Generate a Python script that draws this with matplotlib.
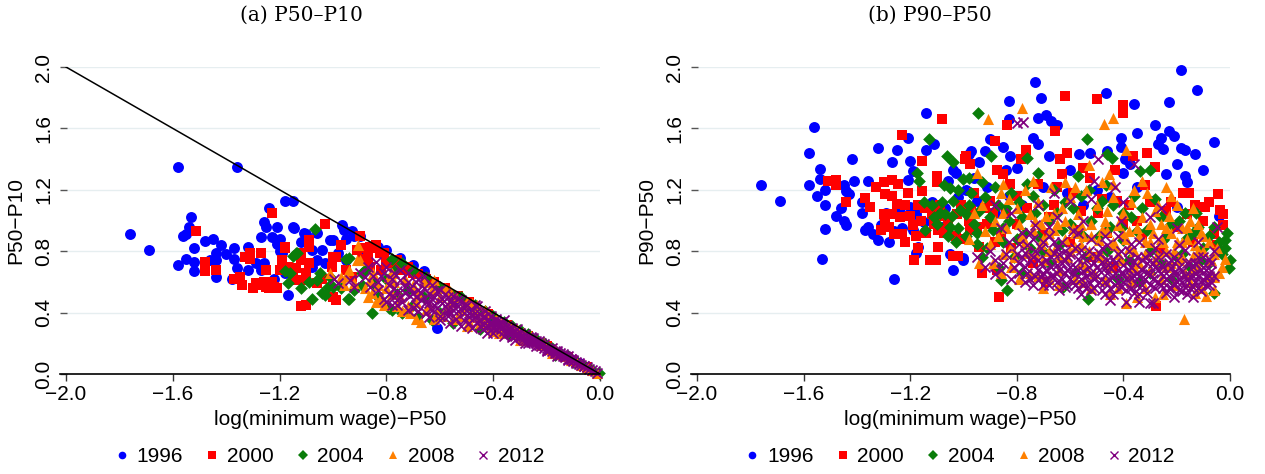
import numpy as np
import matplotlib
matplotlib.use("Agg")
import matplotlib.pyplot as plt
from matplotlib.lines import Line2D

# ---- data: (log(min wage)-P50, gap) pairs ----
years = ["1996", "2000", "2004", "2008", "2012"]

# panel (a): P50-P10
a_1996 = [(-1.76, 0.91), (-1.69, 0.81), (-1.58, 1.35), (-1.36, 1.35), (-1.58, 0.71), (-1.53, 1.02),
          (-1.54, 0.96), (-1.56, 0.90), (-1.55, 0.91), (-1.52, 0.82), (-1.55, 0.75), (-1.52, 0.73),
          (-1.52, 0.67), (-1.48, 0.865), (-1.45, 0.88), (-1.42, 0.84), (-1.44, 0.79), (-1.46, 0.745),
          (-1.44, 0.74), (-1.44, 0.63), (-1.40, 0.78), (-1.37, 0.82), (-1.37, 0.75), (-1.36, 0.69),
          (-1.38, 0.62), (-1.32, 0.83), (-1.32, 0.68), (-1.29, 0.72), (-1.27, 0.68), (-1.27, 0.89),
          (-1.26, 0.99), (-1.25, 0.96), (-1.24, 1.08), (-1.23, 0.89), (-1.21, 0.96), (-1.21, 0.85),
          (-1.20, 0.88), (-1.20, 0.80), (-1.18, 1.13), (-1.15, 1.13), (-1.15, 0.96), (-1.145, 0.95),
          (-1.12, 0.86), (-1.11, 0.92), (-1.19, 0.79), (-1.17, 0.515), (-1.10, 0.91), (-1.08, 0.81),
          (-1.08, 0.70), (-1.06, 0.92), (-1.04, 0.81), (-1.03, 0.72), (-1.01, 0.87), (-1.00, 0.87),
          (-0.98, 0.79), (-0.965, 0.97), (-0.96, 0.94), (-0.95, 0.88), (-0.93, 0.93), (-0.95, 0.74),
          (-0.92, 0.90), (-0.90, 0.90), (-0.88, 0.81), (-0.83, 0.83), (-0.80, 0.81), (-0.75, 0.755),
          (-0.70, 0.71), (-0.66, 0.67), (-0.61, 0.30), (-1.18, 0.66), (-1.22, 0.62), (-1.26, 0.72),
          (-1.13, 0.78), (-1.06, 0.74), (-0.55, 0.47), (-0.48, 0.42), (-0.42, 0.36), (-0.35, 0.31),
          (-0.28, 0.25), (-0.22, 0.19), (-0.15, 0.13), (-0.08, 0.07)]
a_2000 = [(-1.515, 0.93), (-1.48, 0.67), (-1.48, 0.73), (-1.44, 0.68), (-1.37, 0.62), (-1.34, 0.58),
          (-1.35, 0.635), (-1.31, 0.79), (-1.33, 0.765), (-1.27, 0.79), (-1.31, 0.75), (-1.29, 0.59),
          (-1.27, 0.58), (-1.23, 1.05), (-1.25, 0.57), (-1.22, 0.57), (-1.25, 0.68), (-1.26, 0.60),
          (-1.18, 0.82), (-1.18, 0.83), (-1.19, 0.74), (-1.20, 0.68), (-1.14, 0.69), (-1.12, 0.74),
          (-1.11, 0.61), (-1.12, 0.79), (-1.10, 0.66), (-1.09, 0.72), (-1.09, 0.87), (-1.09, 0.83),
          (-1.06, 0.59), (-1.12, 0.44), (-1.10, 0.45), (-1.03, 0.98), (-1.005, 0.70), (-1.00, 0.76),
          (-0.97, 0.84), (-0.95, 0.68), (-1.00, 0.50), (-0.99, 0.765), (-0.90, 0.90), (-0.89, 0.82),
          (-0.87, 0.76), (-0.86, 0.83), (-0.84, 0.84), (-0.86, 0.70), (-0.825, 0.79), (-0.81, 0.79),
          (-0.80, 0.73), (-0.76, 0.74), (-0.82, 0.68), (-0.74, 0.68), (-0.91, 0.81), (-0.89, 0.75),
          (-0.84, 0.82), (-0.79, 0.72), (-0.76, 0.68), (-0.72, 0.70), (-0.70, 0.66), (-0.68, 0.65),
          (-0.65, 0.62), (-0.62, 0.60), (-0.58, 0.56), (-0.53, 0.51), (-0.49, 0.47), (-1.17, 0.70),
          (-1.14, 0.61), (-0.99, 0.48), (-1.19, 0.68), (-1.15, 0.64), (-1.04, 0.62), (-0.93, 0.63),
          (-1.30, 0.56), (-1.24, 0.56), (-1.21, 0.56), (-1.23, 0.60), (-0.42, 0.39), (-0.35, 0.32),
          (-0.27, 0.25), (-0.20, 0.18), (-0.12, 0.11), (-0.05, 0.045)]
a_2004 = [(-1.066, 0.945), (-1.15, 0.77), (-1.135, 0.79), (-1.14, 0.79), (-1.18, 0.67), (-1.16, 0.66),
          (-1.17, 0.59), (-1.08, 0.49), (-1.03, 0.515), (-1.06, 0.61), (-1.09, 0.60), (-1.05, 0.66),
          (-1.04, 0.53), (-1.02, 0.57), (-1.00, 0.57), (-1.01, 0.63), (-0.95, 0.75), (-0.94, 0.755),
          (-0.945, 0.49), (-0.94, 0.49), (-0.89, 0.66), (-0.89, 0.58), (-0.88, 0.68), (-0.85, 0.59),
          (-0.855, 0.395), (-0.79, 0.43), (-0.78, 0.42), (-0.74, 0.40), (-0.766, 0.68), (-0.80, 0.62),
          (-0.68, 0.375), (-0.63, 0.35), (-0.70, 0.45), (-0.66, 0.50), (-0.72, 0.55), (-0.76, 0.52),
          (-0.83, 0.50), (-0.92, 0.55), (-0.97, 0.56), (-1.12, 0.56), (-0.78, 0.75), (-0.74, 0.72),
          (-0.70, 0.68), (-0.65, 0.63), (-0.60, 0.57), (-0.56, 0.53), (-0.52, 0.50), (-0.47, 0.45),
          (-0.43, 0.41), (-0.40, 0.38), (-0.36, 0.34), (-0.33, 0.31), (-0.30, 0.285), (-0.27, 0.26),
          (-0.24, 0.23), (-0.21, 0.20), (-0.18, 0.17), (-0.15, 0.14), (-0.12, 0.115), (-0.09, 0.085),
          (-0.06, 0.055), (-0.03, 0.028), (-0.005, 0.004), (-0.37, 0.265), (-0.34, 0.255), (-0.45, 0.29),
          (-0.17, 0.125), (-0.55, 0.33), (-0.28, 0.22), (-0.10, 0.08), (-0.60, 0.40)]
a_2008 = [(-0.906, 0.84), (-0.90, 0.745), (-0.94, 0.68), (-0.96, 0.58), (-0.95, 0.64), (-0.85, 0.66),
          (-0.86, 0.61), (-0.855, 0.53), (-0.825, 0.48), (-0.79, 0.635), (-0.78, 0.66), (-0.69, 0.36),
          (-0.67, 0.34), (-0.91, 0.74), (-1.01, 0.66), (-0.97, 0.63), (-0.92, 0.59), (-0.84, 0.47),
          (-0.82, 0.50), (-0.88, 0.56), (-0.80, 0.56), (-0.77, 0.60), (-0.75, 0.50), (-0.73, 0.62),
          (-0.72, 0.44), (-0.70, 0.58), (-0.68, 0.52), (-0.66, 0.60), (-0.64, 0.45), (-0.63, 0.55),
          (-0.61, 0.40), (-0.60, 0.50), (-0.58, 0.56), (-0.57, 0.44), (-0.55, 0.36), (-0.54, 0.50),
          (-0.52, 0.42), (-0.50, 0.47), (-0.49, 0.34), (-0.47, 0.41), (-0.46, 0.45), (-0.44, 0.36),
          (-0.42, 0.40), (-0.41, 0.31), (-0.39, 0.36), (-0.37, 0.33), (-0.36, 0.29), (-0.34, 0.32),
          (-0.32, 0.26), (-0.31, 0.29), (-0.29, 0.27), (-0.27, 0.23), (-0.26, 0.25), (-0.24, 0.22),
          (-0.22, 0.19), (-0.21, 0.20), (-0.19, 0.16), (-0.17, 0.16), (-0.15, 0.13), (-0.13, 0.12),
          (-0.11, 0.09), (-0.09, 0.085), (-0.07, 0.06), (-0.05, 0.045), (-0.03, 0.025), (-0.01, 0.008),
          (-0.62, 0.61), (-0.56, 0.54), (-0.48, 0.46), (-0.43, 0.42), (-0.76, 0.44), (-0.69, 0.47),
          (-0.53, 0.38), (-0.45, 0.33), (-0.40, 0.28), (-0.33, 0.30), (-0.74, 0.41), (-0.62, 0.36),
          (-0.50, 0.31), (-0.38, 0.27), (-0.30, 0.22), (-0.18, 0.14), (-0.87, 0.50), (-0.83, 0.58),
          (-0.81, 0.45), (-0.78, 0.52), (-0.71, 0.40), (-0.65, 0.42), (-0.59, 0.38), (-0.56, 0.47),
          (-0.51, 0.44), (-0.46, 0.37), (-0.43, 0.33), (-0.35, 0.30), (-0.28, 0.24), (-0.23, 0.21)]
a_2012 = [(-0.995, 0.62), (-0.935, 0.61), (-0.90, 0.66), (-0.87, 0.70), (-0.86, 0.57), (-0.84, 0.73),
          (-0.83, 0.55), (-0.82, 0.64), (-0.81, 0.49), (-0.80, 0.70), (-0.79, 0.58), (-0.78, 0.45),
          (-0.77, 0.66), (-0.76, 0.54), (-0.75, 0.61), (-0.74, 0.47), (-0.73, 0.57), (-0.72, 0.66),
          (-0.71, 0.51), (-0.70, 0.43), (-0.69, 0.60), (-0.68, 0.55), (-0.67, 0.48), (-0.66, 0.63),
          (-0.65, 0.40), (-0.64, 0.52), (-0.63, 0.58), (-0.62, 0.45), (-0.61, 0.54), (-0.60, 0.38),
          (-0.59, 0.49), (-0.58, 0.52), (-0.57, 0.42), (-0.56, 0.47), (-0.55, 0.51), (-0.54, 0.36),
          (-0.53, 0.44), (-0.52, 0.48), (-0.51, 0.40), (-0.50, 0.45), (-0.49, 0.33), (-0.48, 0.42),
          (-0.47, 0.37), (-0.46, 0.44), (-0.45, 0.39), (-0.44, 0.32), (-0.43, 0.41), (-0.42, 0.35),
          (-0.41, 0.38), (-0.40, 0.30), (-0.39, 0.36), (-0.38, 0.33), (-0.37, 0.29), (-0.36, 0.35),
          (-0.35, 0.31), (-0.34, 0.27), (-0.33, 0.30), (-0.32, 0.25), (-0.31, 0.29), (-0.30, 0.27),
          (-0.29, 0.23), (-0.28, 0.26), (-0.27, 0.24), (-0.26, 0.21), (-0.25, 0.235), (-0.24, 0.20),
          (-0.23, 0.215), (-0.22, 0.18), (-0.21, 0.195), (-0.20, 0.17), (-0.19, 0.155), (-0.18, 0.17),
          (-0.17, 0.14), (-0.16, 0.15), (-0.15, 0.125), (-0.14, 0.13), (-0.13, 0.11), (-0.12, 0.115),
          (-0.11, 0.095), (-0.10, 0.09), (-0.09, 0.08), (-0.08, 0.07), (-0.07, 0.06), (-0.06, 0.055),
          (-0.05, 0.045), (-0.04, 0.035), (-0.03, 0.027), (-0.02, 0.018), (-0.01, 0.009),
          (-0.78, 0.62), (-0.75, 0.68), (-0.72, 0.60), (-0.70, 0.53), (-0.68, 0.62), (-0.66, 0.56),
          (-0.64, 0.46), (-0.62, 0.50), (-0.60, 0.55), (-0.58, 0.44), (-0.57, 0.50), (-0.55, 0.42),
          (-0.53, 0.49), (-0.51, 0.45), (-0.49, 0.40), (-0.47, 0.45), (-0.46, 0.34), (-0.44, 0.37),
          (-0.42, 0.31), (-0.41, 0.34), (-0.39, 0.32), (-0.37, 0.34), (-0.36, 0.28), (-0.34, 0.30),
          (-0.32, 0.28), (-0.30, 0.24), (-0.28, 0.22), (-0.26, 0.24), (-0.24, 0.215), (-0.22, 0.20),
          (-0.20, 0.155), (-0.18, 0.15), (-0.16, 0.135), (-0.14, 0.115), (-0.12, 0.10), (-0.10, 0.085),
          (-0.08, 0.065), (-0.06, 0.05), (-0.425, 0.27), (-0.88, 0.63), (-0.92, 0.57), (-0.98, 0.59),
          (-0.80, 0.47), (-0.76, 0.45), (-0.72, 0.42), (-0.68, 0.41), (-0.64, 0.37), (-0.60, 0.35),
          (-0.56, 0.33), (-0.52, 0.31), (-0.48, 0.30), (-0.44, 0.29), (-0.40, 0.27), (-0.36, 0.25),
          (-0.32, 0.22), (-0.28, 0.20), (-0.24, 0.18), (-0.20, 0.15), (-0.16, 0.12), (-0.12, 0.09),
          (-0.79, 0.52), (-0.77, 0.56), (-0.75, 0.50), (-0.73, 0.53), (-0.71, 0.56), (-0.69, 0.50),
          (-0.67, 0.53), (-0.65, 0.47), (-0.63, 0.49), (-0.61, 0.43), (-0.59, 0.46), (-0.57, 0.40),
          (-0.55, 0.46), (-0.53, 0.41), (-0.51, 0.43), (-0.49, 0.37), (-0.47, 0.40), (-0.45, 0.35),
          (-0.43, 0.37), (-0.41, 0.32), (-0.39, 0.34), (-0.37, 0.31), (-0.35, 0.28), (-0.33, 0.27),
          (-0.31, 0.26), (-0.29, 0.25), (-0.27, 0.22), (-0.25, 0.21), (-0.23, 0.19), (-0.21, 0.17),
          (-0.19, 0.165), (-0.17, 0.15), (-0.15, 0.14), (-0.13, 0.12), (-0.11, 0.10), (-0.09, 0.07),
          (-0.83, 0.60), (-0.81, 0.66), (-0.85, 0.64), (-0.77, 0.50), (-0.69, 0.45), (-0.63, 0.42),
          (-0.57, 0.38), (-0.51, 0.35), (-0.45, 0.31), (-0.39, 0.29), (-0.33, 0.24), (-0.27, 0.20)]

# panel (b): P90-P50
b_1996 = [(-1.76, 1.23), (-1.69, 1.13), (-1.56, 1.61), (-1.58, 1.44), (-1.54, 1.335), (-1.54, 1.27),
          (-1.58, 1.23), (-1.55, 1.16), (-1.52, 1.20), (-1.52, 1.10), (-1.52, 0.945), (-1.53, 0.75),
          (-1.48, 1.03), (-1.46, 1.08), (-1.45, 1.23), (-1.44, 1.19), (-1.43, 1.17), (-1.44, 0.97),
          (-1.45, 1.00), (-1.42, 1.40), (-1.41, 1.26), (-1.38, 1.12), (-1.38, 1.05), (-1.37, 0.94),
          (-1.36, 1.26), (-1.36, 0.96), (-1.34, 0.91), (-1.32, 1.47), (-1.32, 0.87), (-1.31, 0.97),
          (-1.28, 0.86), (-1.27, 1.38), (-1.26, 0.62), (-1.25, 1.46), (-1.24, 1.08), (-1.21, 1.54),
          (-1.21, 1.265), (-1.20, 1.39), (-1.20, 1.09), (-1.19, 1.32), (-1.18, 1.04), (-1.19, 0.94),
          (-1.17, 0.83), (-1.18, 0.79), (-1.14, 1.70), (-1.14, 1.46), (-1.11, 1.50), (-1.12, 1.12),
          (-1.08, 0.96), (-1.06, 1.255), (-1.04, 1.33), (-1.03, 1.31), (-1.04, 0.68), (-1.05, 0.78),
          (-1.00, 0.755), (-0.98, 1.43), (-1.30, 1.02), (-1.29, 1.05), (-1.26, 0.93), (-1.23, 0.95),
          (-1.15, 0.99), (-1.10, 1.05), (-1.07, 1.08), (-1.02, 1.15), (-0.99, 1.20), (-0.96, 1.28),
          (-0.94, 1.38), (-0.92, 1.45), (-0.90, 1.53), (-0.85, 1.48), (-0.97, 1.45), (-0.83, 1.78),
          (-0.83, 1.66), (-0.825, 1.42), (-0.84, 1.33), (-0.95, 1.13), (-0.91, 1.22), (-0.83, 1.16),
          (-0.80, 1.34), (-0.73, 1.90), (-0.71, 1.80), (-0.72, 1.67), (-0.69, 1.69), (-0.67, 1.65),
          (-0.65, 1.62), (-0.74, 1.54), (-0.72, 1.50), (-0.68, 1.42), (-0.70, 1.22), (-0.60, 1.33),
          (-0.61, 1.18), (-0.565, 1.43), (-0.525, 1.44), (-0.465, 1.83), (-0.46, 1.45), (-0.41, 1.48),
          (-0.41, 1.54), (-0.395, 1.40), (-0.375, 1.37), (-0.40, 1.31), (-0.36, 1.76), (-0.35, 1.57),
          (-0.28, 1.62), (-0.26, 1.54), (-0.23, 1.58), (-0.23, 1.77), (-0.21, 1.55), (-0.27, 1.50),
          (-0.25, 1.465), (-0.185, 1.98), (-0.185, 1.47), (-0.17, 1.46), (-0.13, 1.43), (-0.125, 1.85),
          (-0.06, 1.51), (-0.20, 1.37), (-0.24, 1.30), (-0.17, 1.29), (-0.16, 1.25), (-0.10, 1.33),
          (-0.99, 1.08), (-1.00, 0.74), (-0.20, 1.09), (-0.04, 1.03), (-0.50, 1.20), (-0.45, 1.15),
          (-0.55, 1.10), (-0.35, 1.22), (-0.30, 1.13), (-0.88, 1.05), (-0.78, 1.10)]
b_2000 = [(-1.232, 1.56), (-1.08, 1.66), (-1.51, 1.26), (-1.48, 1.265), (-1.48, 1.23), (-1.44, 1.12),
          (-1.37, 1.145), (-1.35, 1.09), (-1.33, 1.22), (-1.30, 1.25), (-1.27, 1.265), (-1.245, 1.24),
          (-1.295, 1.17), (-1.27, 1.16), (-1.25, 1.11), (-1.22, 1.10), (-1.21, 1.18), (-1.30, 1.04),
          (-1.295, 1.00), (-1.27, 1.04), (-1.31, 0.94), (-1.26, 0.91), (-1.23, 0.91), (-1.20, 1.03),
          (-1.19, 0.97), (-1.16, 1.00), (-1.155, 1.39), (-1.155, 1.19), (-1.145, 1.08), (-1.18, 0.90),
          (-1.17, 0.82), (-1.185, 0.74), (-1.125, 0.74), (-1.105, 0.74), (-1.10, 1.29), (-1.10, 1.25),
          (-1.11, 0.98), (-1.095, 0.94), (-1.075, 0.92), (-1.095, 0.83), (-1.04, 0.77), (-1.02, 0.77),
          (-1.075, 1.03), (-1.025, 1.04), (-0.995, 1.40), (-0.62, 1.81), (-0.50, 1.79), (-0.403, 1.75),
          (-0.403, 1.70), (-0.838, 1.62), (-0.657, 1.585), (-0.88, 1.515), (-0.99, 1.42), (-0.765, 1.46),
          (-0.784, 1.40), (-0.638, 1.40), (-0.61, 1.44), (-0.55, 1.34), (-0.525, 1.28), (-0.313, 1.44),
          (-0.365, 1.42), (-0.43, 1.33), (-0.28, 1.35), (-0.32, 1.23), (-0.178, 1.18), (-0.153, 1.18),
          (-0.13, 1.10), (-0.092, 1.09), (-0.044, 1.17), (-0.038, 1.07), (-0.025, 1.04), (-0.025, 0.97),
          (-0.06, 0.91), (-0.278, 0.44), (-0.865, 0.50), (-0.93, 0.66), (-0.69, 0.60), (-0.875, 1.33),
          (-0.85, 1.30), (-0.975, 1.37), (-0.90, 1.13), (-0.89, 1.05), (-0.975, 0.94), (-0.825, 1.24),
          (-0.72, 1.24), (-0.65, 1.22), (-0.59, 1.18), (-0.425, 1.13), (-0.35, 1.00), (-0.495, 1.05),
          (-0.94, 0.83), (-0.874, 0.68), (-0.96, 1.18), (-0.92, 1.08), (-0.86, 0.92), (-0.80, 0.98),
          (-0.76, 1.08), (-0.70, 0.92), (-0.66, 1.10), (-0.60, 0.86), (-0.56, 1.06), (-0.46, 0.92),
          (-0.40, 0.98), (-0.30, 1.12), (-0.24, 1.06), (-0.20, 0.96), (-0.10, 1.00), (-0.98, 1.00),
          (-1.00, 0.88), (-0.82, 0.82), (-0.74, 0.72), (-0.52, 0.76), (-0.44, 0.70), (-0.26, 0.80),
          (-0.14, 0.86), (-0.05, 0.84), (-1.28, 0.96), (-1.24, 1.02), (-1.22, 0.86), (-1.17, 1.10),
          (-1.14, 0.92), (-1.12, 1.04), (-1.09, 1.10), (-1.06, 0.98), (-1.03, 0.90), (-1.01, 1.10),
          (-0.97, 1.06), (-0.95, 0.96), (-0.91, 0.98), (-0.88, 0.86), (-0.84, 1.06), (-0.80, 1.16),
          (-0.78, 0.88), (-0.68, 1.02), (-0.63, 1.30), (-0.57, 0.94), (-0.48, 1.14), (-0.38, 1.10),
          (-0.33, 0.90), (-0.22, 1.12), (-0.16, 1.04), (-0.08, 1.12)]
b_2004 = [(-1.13, 1.53), (-1.063, 1.42), (-1.04, 1.38), (-1.176, 1.31), (-1.166, 1.26), (-1.075, 1.23),
          (-1.05, 1.21), (-1.00, 1.27), (-1.15, 1.12), (-1.09, 1.05), (-1.07, 1.04), (-1.045, 1.03),
          (-1.013, 1.07), (-1.145, 0.935), (-1.04, 1.13), (-1.03, 0.86), (-0.944, 1.70), (-0.538, 1.53),
          (-0.897, 1.42), (-0.76, 1.41), (-0.72, 1.31), (-0.98, 1.28), (-0.463, 1.43), (-0.444, 1.41),
          (-0.338, 1.32), (-0.30, 1.33), (-0.465, 1.23), (-0.57, 1.29), (-0.17, 1.05), (-0.128, 1.05),
          (-0.013, 0.92), (-0.02, 0.875), (0.0, 0.74), (-0.005, 0.69), (-0.06, 0.53), (-0.532, 0.49),
          (-0.838, 0.55), (-0.86, 0.61), (-0.625, 0.57), (-0.865, 0.69), (-0.16, 0.885), (-0.90, 1.02),
          (-0.85, 0.95), (-0.80, 0.88), (-0.75, 0.82), (-0.95, 0.85), (-0.70, 1.10), (-0.65, 1.05),
          (-0.60, 0.98), (-0.55, 0.90), (-0.50, 1.08), (-0.45, 0.96), (-0.40, 0.87), (-0.35, 0.93),
          (-0.30, 0.80), (-0.25, 0.87), (-0.20, 0.76), (-0.15, 0.70), (-0.10, 0.82), (-0.68, 0.72),
          (-0.58, 0.66), (-0.42, 0.62), (-0.30, 0.66), (-0.92, 1.15), (-0.88, 1.22), (-0.84, 1.08),
          (-0.82, 1.18), (-0.78, 1.02), (-0.74, 1.16), (-0.66, 1.20), (-0.62, 1.12), (-0.56, 1.16),
          (-0.52, 1.00), (-0.48, 1.13), (-0.40, 1.05), (-0.36, 1.16), (-0.33, 1.08), (-0.26, 1.02),
          (-0.22, 0.98), (-0.12, 0.96), (-0.08, 0.90), (-0.04, 0.86), (-0.96, 0.98), (-0.99, 0.90),
          (-0.93, 0.76), (-0.78, 0.66), (-0.72, 0.90), (-0.64, 0.84), (-0.54, 0.77), (-0.46, 0.80),
          (-0.38, 0.74), (-0.34, 0.60), (-0.26, 0.72), (-0.22, 0.62), (-0.18, 0.78), (-0.08, 0.72),
          (-0.03, 0.78), (-0.98, 1.10), (-1.02, 0.95), (-1.06, 0.90), (-1.10, 0.98), (-1.12, 1.10),
          (-0.89, 0.94), (-0.94, 1.06), (-1.11, 1.02), (-1.08, 1.12), (-1.05, 0.96), (-1.02, 1.20),
          (-0.99, 1.04), (-0.97, 1.18), (-0.95, 0.92), (-0.93, 1.25), (-0.91, 0.82), (-0.87, 1.10),
          (-0.85, 0.86), (-0.83, 1.00), (-0.81, 0.76), (-0.79, 1.12), (-0.77, 0.92), (-0.76, 1.24),
          (-0.73, 1.05), (-0.70, 0.80), (-0.68, 1.00), (-0.63, 0.94), (-0.59, 1.08), (-0.53, 1.20),
          (-0.49, 0.90), (-0.44, 1.10), (-0.41, 0.95), (-0.37, 1.02), (-0.31, 0.94), (-0.28, 1.14),
          (-0.24, 0.90), (-0.19, 1.00), (-0.14, 0.92), (-0.11, 0.74), (-0.06, 0.96), (-0.02, 0.82)]
b_2008 = [(-0.907, 1.66), (-0.78, 1.73), (-0.474, 1.63), (-0.44, 1.67), (-0.39, 1.46), (-0.95, 1.31),
          (-0.53, 1.36), (-0.454, 1.30), (-0.24, 1.22), (-0.172, 0.36), (-0.73, 1.00), (-0.70, 0.56),
          (-0.09, 0.51), (-0.06, 0.63), (-0.02, 0.75), (-0.28, 0.50), (-0.39, 0.46), (-0.35, 0.50),
          (-0.79, 0.62), (-0.85, 0.78), (-0.90, 0.85), (-0.88, 1.00), (-0.86, 1.18), (-0.84, 0.95),
          (-0.82, 0.83), (-0.80, 1.08), (-0.78, 0.90), (-0.77, 1.20), (-0.76, 0.79), (-0.74, 0.94),
          (-0.72, 1.12), (-0.71, 0.85), (-0.70, 0.74), (-0.69, 1.03), (-0.68, 0.92), (-0.67, 1.22),
          (-0.66, 0.80), (-0.65, 0.98), (-0.64, 0.68), (-0.63, 1.08), (-0.62, 0.88), (-0.61, 0.76),
          (-0.60, 1.15), (-0.59, 0.95), (-0.58, 0.83), (-0.57, 1.04), (-0.56, 0.72), (-0.55, 0.90),
          (-0.54, 1.20), (-0.53, 0.80), (-0.52, 0.98), (-0.51, 0.66), (-0.50, 1.10), (-0.49, 0.87),
          (-0.48, 0.76), (-0.47, 1.00), (-0.46, 0.93), (-0.45, 0.70), (-0.44, 1.15), (-0.43, 0.84),
          (-0.42, 0.97), (-0.41, 0.74), (-0.40, 1.05), (-0.39, 0.88), (-0.38, 0.64), (-0.37, 1.12),
          (-0.36, 0.80), (-0.35, 0.95), (-0.34, 0.72), (-0.33, 1.02), (-0.32, 0.86), (-0.31, 1.18),
          (-0.30, 0.68), (-0.29, 0.92), (-0.28, 1.06), (-0.27, 0.78), (-0.26, 0.98), (-0.25, 0.86),
          (-0.24, 0.70), (-0.23, 1.03), (-0.22, 0.92), (-0.21, 0.80), (-0.20, 1.10), (-0.19, 0.74),
          (-0.18, 0.95), (-0.17, 0.66), (-0.16, 0.88), (-0.15, 1.00), (-0.14, 0.77), (-0.13, 0.84),
          (-0.12, 0.70), (-0.11, 0.92), (-0.10, 0.80), (-0.08, 0.86), (-0.07, 0.74), (-0.05, 0.82),
          (-0.04, 0.66), (-0.92, 0.93), (-0.94, 0.72), (-0.96, 1.05), (-0.86, 0.66), (-0.75, 0.66),
          (-0.64, 0.58), (-0.58, 0.62), (-0.52, 0.56), (-0.47, 0.61), (-0.42, 0.56), (-0.37, 0.60),
          (-0.32, 0.56), (-0.26, 0.62), (-0.21, 0.58), (-0.15, 0.60), (-0.11, 0.56), (-0.06, 0.55),
          (-0.62, 1.25), (-0.48, 1.25), (-0.33, 1.26), (-0.27, 1.10), (-0.71, 0.98), (-0.66, 1.05),
          (-0.56, 0.97), (-0.46, 1.06), (-0.38, 0.93), (-0.30, 0.98), (-0.24, 0.95), (-0.18, 0.86),
          (-0.12, 0.98), (-0.82, 0.70), (-0.89, 0.72), (-0.87, 0.90), (-0.85, 1.05), (-0.83, 1.14),
          (-0.81, 0.76), (-0.79, 0.98), (-0.77, 0.86), (-0.75, 1.04), (-0.73, 0.78), (-0.72, 0.64),
          (-0.70, 0.88), (-0.68, 0.80), (-0.66, 0.94), (-0.64, 0.76), (-0.62, 1.00), (-0.60, 0.80),
          (-0.58, 0.92), (-0.56, 0.84), (-0.54, 0.70), (-0.52, 0.90), (-0.50, 0.78), (-0.48, 0.94),
          (-0.46, 0.72), (-0.44, 0.86), (-0.42, 0.78), (-0.40, 0.92), (-0.38, 0.82), (-0.36, 0.70),
          (-0.34, 0.90), (-0.32, 0.78), (-0.30, 0.86), (-0.28, 0.74), (-0.26, 0.88), (-0.24, 0.80),
          (-0.22, 0.72), (-0.20, 0.86), (-0.18, 0.76), (-0.16, 0.96), (-0.14, 0.68), (-0.12, 0.80),
          (-0.10, 0.90), (-0.08, 0.64), (-0.06, 0.78), (-0.03, 0.70), (-0.98, 0.88), (-0.93, 1.10),
          (-0.85, 1.24), (-0.74, 1.26), (-0.58, 1.22), (-0.44, 1.24), (-0.36, 1.20), (-0.22, 1.16),
          (-0.14, 1.08), (-0.45, 0.52), (-0.25, 0.52), (-0.13, 0.53), (-0.68, 0.62), (-0.55, 0.60)]
b_2012 = [(-0.80, 1.635), (-0.775, 1.64), (-0.495, 1.40), (-0.51, 1.255), (-0.43, 1.22), (-0.36, 1.37),
          (-0.60, 1.13), (-0.66, 1.18), (-0.72, 1.10), (-0.82, 1.05), (-0.86, 0.95), (-0.90, 0.80),
          (-0.88, 0.65), (-0.85, 0.72), (-0.83, 0.86), (-0.80, 0.78), (-0.79, 0.66), (-0.78, 0.92),
          (-0.77, 0.70), (-0.76, 0.84), (-0.75, 0.62), (-0.74, 0.76), (-0.73, 0.97), (-0.72, 0.68),
          (-0.71, 0.82), (-0.70, 0.58), (-0.69, 0.74), (-0.68, 0.90), (-0.67, 0.64), (-0.66, 0.79),
          (-0.65, 0.71), (-0.64, 0.55), (-0.63, 0.86), (-0.62, 0.66), (-0.61, 0.77), (-0.60, 0.62),
          (-0.59, 0.93), (-0.58, 0.70), (-0.57, 0.56), (-0.56, 0.81), (-0.55, 0.67), (-0.54, 0.74),
          (-0.53, 0.60), (-0.52, 0.88), (-0.51, 0.72), (-0.50, 0.64), (-0.49, 0.79), (-0.48, 0.55),
          (-0.47, 0.69), (-0.46, 0.84), (-0.45, 0.61), (-0.44, 0.75), (-0.43, 0.66), (-0.42, 0.90),
          (-0.41, 0.57), (-0.40, 0.71), (-0.39, 0.47), (-0.38, 0.80), (-0.37, 0.63), (-0.36, 0.73),
          (-0.35, 0.58), (-0.34, 0.86), (-0.33, 0.68), (-0.32, 0.76), (-0.31, 0.53), (-0.30, 0.65),
          (-0.29, 0.46), (-0.28, 0.82), (-0.27, 0.60), (-0.26, 0.71), (-0.25, 0.56), (-0.24, 0.78),
          (-0.23, 0.64), (-0.22, 0.69), (-0.21, 0.59), (-0.20, 0.74), (-0.19, 0.55), (-0.18, 0.67),
          (-0.17, 0.81), (-0.16, 0.61), (-0.15, 0.72), (-0.14, 0.57), (-0.13, 0.66), (-0.12, 0.76),
          (-0.11, 0.60), (-0.10, 0.70), (-0.09, 0.63), (-0.08, 0.75), (-0.07, 0.67), (-0.06, 0.80),
          (-0.05, 0.96), (-0.81, 0.70), (-0.79, 0.85), (-0.77, 0.60), (-0.75, 0.74), (-0.73, 0.64),
          (-0.71, 0.72), (-0.69, 0.62), (-0.67, 0.76), (-0.65, 0.60), (-0.63, 0.72), (-0.61, 0.68),
          (-0.59, 0.60), (-0.57, 0.75), (-0.55, 0.58), (-0.53, 0.70), (-0.51, 0.62), (-0.49, 0.68),
          (-0.47, 0.60), (-0.45, 0.70), (-0.43, 0.58), (-0.41, 0.66), (-0.39, 0.62), (-0.37, 0.70),
          (-0.35, 0.66), (-0.33, 0.58), (-0.31, 0.72), (-0.29, 0.62), (-0.27, 0.68), (-0.25, 0.64),
          (-0.23, 0.56), (-0.21, 0.66), (-0.19, 0.62), (-0.17, 0.57), (-0.15, 0.64), (-0.13, 0.60),
          (-0.11, 0.68), (-0.09, 0.58), (-0.07, 0.60), (-0.78, 0.76), (-0.74, 0.88), (-0.70, 0.66),
          (-0.66, 0.86), (-0.62, 0.80), (-0.58, 0.82), (-0.54, 0.64), (-0.50, 0.76), (-0.46, 0.66),
          (-0.42, 0.78), (-0.38, 0.68), (-0.34, 0.64), (-0.30, 0.78), (-0.26, 0.66), (-0.22, 0.74),
          (-0.18, 0.60), (-0.14, 0.70), (-0.10, 0.62), (-0.82, 0.62), (-0.56, 0.52), (-0.44, 0.52),
          (-0.36, 0.53), (-0.24, 0.53), (-0.16, 0.52), (-0.30, 0.46), (-0.52, 0.55), (-0.62, 0.57),
          (-0.48, 0.73), (-0.40, 0.60), (-0.20, 0.66), (-0.12, 0.56), (-0.08, 0.64), (-0.64, 0.78),
          (-0.60, 0.70), (-0.28, 0.70), (-0.79, 0.72), (-0.77, 0.79), (-0.76, 0.66), (-0.74, 0.58),
          (-0.73, 0.80), (-0.72, 0.74), (-0.71, 0.63), (-0.70, 0.86), (-0.69, 0.68), (-0.68, 0.58),
          (-0.67, 0.70), (-0.66, 0.64), (-0.65, 0.82), (-0.64, 0.68), (-0.63, 0.62), (-0.62, 0.74),
          (-0.61, 0.58), (-0.60, 0.78), (-0.59, 0.66), (-0.58, 0.58), (-0.57, 0.68), (-0.56, 0.62),
          (-0.55, 0.76), (-0.54, 0.56), (-0.53, 0.80), (-0.52, 0.66), (-0.51, 0.56), (-0.50, 0.70),
          (-0.49, 0.60), (-0.48, 0.82), (-0.47, 0.52), (-0.46, 0.74), (-0.45, 0.56), (-0.44, 0.64),
          (-0.43, 0.72), (-0.42, 0.60), (-0.41, 0.80), (-0.40, 0.66), (-0.39, 0.55), (-0.38, 0.74),
          (-0.37, 0.56), (-0.36, 0.64), (-0.35, 0.76), (-0.34, 0.52), (-0.33, 0.74), (-0.32, 0.62),
          (-0.31, 0.66), (-0.30, 0.58), (-0.29, 0.72), (-0.28, 0.56), (-0.27, 0.76), (-0.26, 0.58),
          (-0.25, 0.70), (-0.24, 0.62), (-0.23, 0.72), (-0.22, 0.56), (-0.21, 0.76), (-0.20, 0.60),
          (-0.19, 0.70), (-0.18, 0.54), (-0.17, 0.64), (-0.16, 0.72), (-0.15, 0.56), (-0.14, 0.64),
          (-0.13, 0.72), (-0.12, 0.64), (-0.11, 0.54), (-0.10, 0.76), (-0.09, 0.68), (-0.08, 0.58),
          (-0.07, 0.72), (-0.06, 0.64), (-0.84, 0.78), (-0.86, 0.68), (-0.88, 0.74), (-0.92, 0.70),
          (-0.95, 0.76), (-0.75, 0.92), (-0.68, 0.96), (-0.57, 0.92), (-0.47, 0.90), (-0.37, 0.85),
          (-0.27, 0.88), (-0.19, 0.84), (-0.12, 0.86), (-0.45, 0.48), (-0.34, 0.47), (-0.21, 0.50),
          (-0.14, 0.50), (-0.55, 1.00), (-0.41, 1.00), (-0.30, 1.02), (-0.20, 0.95), (-0.65, 1.02),
          (-0.88, 1.10), (-0.52, 1.14), (-0.40, 1.12), (-0.26, 1.08)]

panel_a = [a_1996, a_2000, a_2004, a_2008, a_2012]
panel_b = [b_1996, b_2000, b_2004, b_2008, b_2012]

x_ticks = [-2.0, -1.6, -1.2, -0.8, -0.4, 0.0]
y_ticks = [0.0, 0.4, 0.8, 1.2, 1.6, 2.0]

# Stata-like marker styles
STYLE = {
    "1996": dict(marker="o", color="#0000ff", s=62),
    "2000": dict(marker="s", color="#ff0000", s=48),
    "2004": dict(marker="D", color="#0a7d0a", s=42),
    "2008": dict(marker="^", color="#ff8000", s=64),
    "2012": dict(marker="x", color="#800080", s=52),
}

SANS = "Liberation Sans"
SERIF = "DejaVu Serif"
FS = 15
GRID = "#e6eef0"

plt.rcParams["font.family"] = SANS
plt.rcParams["axes.unicode_minus"] = True


def draw_panel(ax, series, ylabel, diag=False):
    ax.hlines(y_ticks[1:], -2.0, 0.0, color=GRID, lw=1.0, zorder=0)
    for yr, pts in zip(years, series):
        arr = np.array(pts)
        st = STYLE[yr]
        if st["marker"] == "x":
            ax.scatter(arr[:, 0], arr[:, 1], marker="x", c=st["color"], s=st["s"],
                       linewidths=1.3, zorder=2, clip_on=False)
        else:
            ax.scatter(arr[:, 0], arr[:, 1], marker=st["marker"], c=st["color"], s=st["s"],
                       linewidths=0, zorder=2, clip_on=False)
    if diag:
        ax.plot([-2.0, 0.0], [2.0, 0.0], color="black", lw=1.1, zorder=5)

    ax.set_xlim(-2.0225, 0.0)
    ax.set_ylim(0.0, 2.0)
    for side in ("left", "top", "right"):
        ax.spines[side].set_visible(False)
    ax.spines["bottom"].set_color("black")
    ax.spines["bottom"].set_linewidth(1.2)
    ax.spines["bottom"].set_zorder(6)

    ax.set_xticks(x_ticks)
    ax.set_xticklabels([f"{v:.1f}".replace("-", "\u2212") for v in x_ticks], fontsize=FS)
    ax.set_yticks(y_ticks)
    ax.set_yticklabels([f"{v:.1f}" for v in y_ticks], fontsize=FS, rotation=90, va="center")
    ax.tick_params(axis="x", direction="out", length=5, width=1.0, color="#333333", pad=3)
    ax.tick_params(axis="y", direction="in", length=5, width=1.0, color="#555555", pad=5)

    ax.set_xlabel("log(minimum wage)\u2212P50", fontsize=FS, labelpad=4)
    ax.set_ylabel(ylabel, fontsize=FS, labelpad=6)

    handles = [Line2D([], [], linestyle="none", marker=STYLE[y]["marker"], color=STYLE[y]["color"],
                      markersize=5.5, markeredgewidth=1.0 if y == "2012" else 0)
               for y in years]
    ax.legend(handles, years, loc="center", bbox_to_anchor=(0.5, -0.27), ncol=5, frameon=False,
              fontsize=FS, handlelength=0.6, handletextpad=0.4, columnspacing=1.1,
              borderaxespad=0)


fig = plt.figure(figsize=(12.65, 4.74), dpi=100)
ax1 = fig.add_axes([60 / 1265, 100 / 474, 540 / 1265, 307 / 474])
ax2 = fig.add_axes([691 / 1265, 100 / 474, 539 / 1265, 307 / 474])

draw_panel(ax1, panel_a, "P50\u2212P10", diag=True)
draw_panel(ax2, panel_b, "P90\u2212P50")

fig.text(301 / 1265, 1 - 15 / 474, "(a) P50\u2013P10", family=SERIF, fontsize=14.5,
         ha="center", va="center")
fig.text(930 / 1265, 1 - 15 / 474, "(b) P90\u2013P50", family=SERIF, fontsize=14.5,
         ha="center", va="center")

fig.savefig("out.png", dpi=100, facecolor="white")
